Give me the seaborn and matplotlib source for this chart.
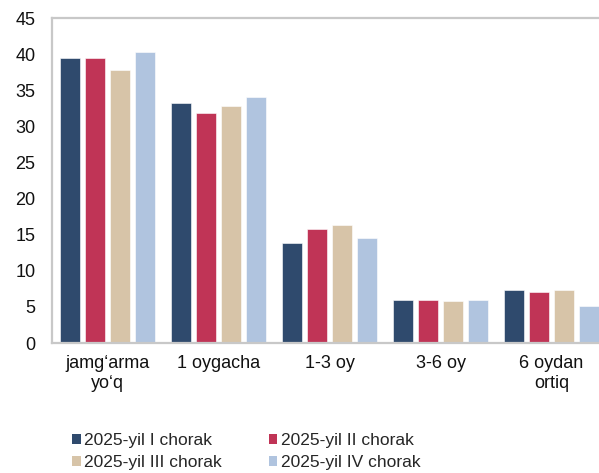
import numpy as np
import pandas as pd
import matplotlib
matplotlib.use('Agg')
import matplotlib.pyplot as plt
import seaborn as sns
from matplotlib.patches import Patch

# data
categories = ['jamg\u2018arma\nyo\u2018q', '1 oygacha', '1-3 oy', '3-6 oy', '6 oydan\nortiq']
periods = ['2025-yil I chorak', '2025-yil II chorak', '2025-yil III chorak', '2025-yil IV chorak']
q1 = [39.4, 33.2, 13.9, 6.0, 7.3]
q2 = [39.4, 31.8, 15.8, 5.9, 7.1]
q3 = [37.8, 32.8, 16.3, 5.8, 7.3]
q4 = [40.3, 34.1, 14.6, 5.9, 5.1]
colors = ['#2F4A6D', '#C03456', '#D7C4A8', '#B0C4DF']

df = pd.DataFrame({'Category': categories * 4,
                   'Period': np.repeat(periods, len(categories)),
                   'Value': q1 + q2 + q3 + q4})

sns.set_style('white')
plt.rcParams['font.family'] = ['Liberation Sans', 'DejaVu Sans']

fig = plt.figure(figsize=(5.99, 4.73), dpi=100)
ax = fig.add_axes([52/599, 130/473, 555/599, 325/473])

sns.barplot(data=df, x='Category', y='Value', hue='Period', order=categories,
            hue_order=periods, palette=colors, saturation=1, width=0.9, gap=0.2,
            edgecolor='white', linewidth=0.4, ax=ax, legend=False)

ax.set_xlim(-0.5, 4.5)
ax.set_ylim(0, 45)
ax.set_yticks(range(0, 46, 5))
ax.set_xlabel('')
ax.set_ylabel('')
ax.tick_params(axis='y', length=0, pad=12, labelsize=13, labelcolor='#111111')
ax.tick_params(axis='x', length=0, pad=9, labelsize=13, labelcolor='#111111')
for s in ax.spines.values():
    s.set_color('#C8C8C8')
    s.set_linewidth(1.6)

# legend fills row by row: I, II / III, IV
order = [0, 2, 1, 3]
handles = [Patch(facecolor=colors[i], edgecolor='none') for i in order]
labels = [periods[i] for i in order]
fig.legend(handles, labels, ncol=2, loc='upper left', bbox_to_anchor=(72/599, 1 - 433/473),
           frameon=False, fontsize=12.5, handlelength=0.5, handleheight=0.5,
           handletextpad=0.2, columnspacing=2.7, labelspacing=0.4,
           borderaxespad=0, borderpad=0)

fig.savefig('out.png', dpi=100)
